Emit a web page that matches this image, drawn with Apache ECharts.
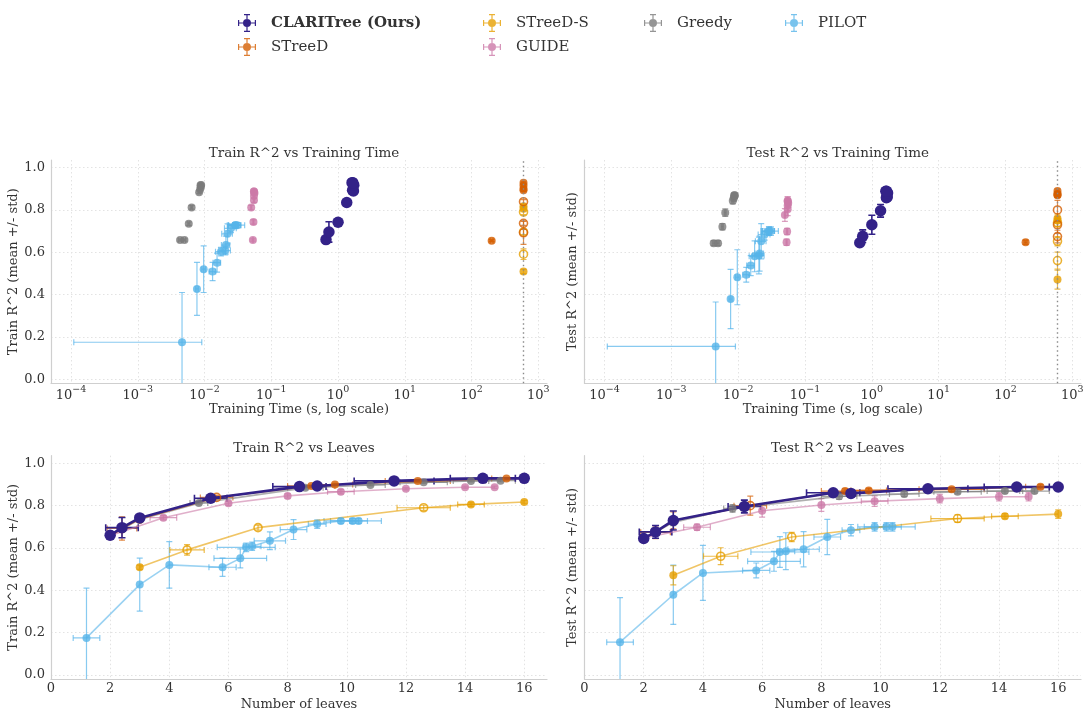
<!DOCTYPE html>
<html>
<head>
<meta charset="utf-8">
<script src="https://cdn.jsdelivr.net/npm/echarts@6/dist/echarts.min.js"></script>
<style>
html, body { margin: 0; padding: 0; background: #fff; }
#chart { width: 1084px; height: 712px; }
</style>
</head>
<body>
<div id="chart"></div>
<script>
// ---- data (mean / std per configuration) ----
// CLARITree (Ours)
const clariLeaves = [2, 2.4, 3, 5.4, 8.4, 9, 11.6, 14.6, 16];
const clariLeavesStd = [0, 0.55, 0, 0.55, 0.9, 0, 1.35, 1.1, 0];
const clariTime = [0.66, 0.73, 1.0, 1.35, 1.7, 1.65, 1.72, 1.62, 1.66];
const clariTimeStd = [0.03, 0.05, 0.05, 0.08, 0.1, 0.1, 0.12, 0.1, 0.1];
const clariTrain = [0.660, 0.696, 0.742, 0.835, 0.890, 0.893, 0.917, 0.929, 0.929];
const clariTrainStd = [0.005, 0.048, 0.008, 0.01, 0.005, 0.005, 0.005, 0.005, 0.004];
const clariTest = [0.645, 0.676, 0.730, 0.796, 0.861, 0.858, 0.880, 0.888, 0.888];
const clariTestStd = [0.012, 0.03, 0.045, 0.03, 0.012, 0.01, 0.01, 0.012, 0.01];

// STreeD
const streedLeaves = [2, 2.4, 3, 5.6, 8.8, 9.6, 12.4, 15.4];
const streedLeavesStd = [0, 0.5, 0, 0.55, 0.8, 0.6, 1.1, 0.5];
const streedTime = [200, 600, 600, 600, 600, 600, 600, 600];
const streedTimeStd = [10, 0, 0, 0, 0, 0, 0, 0];
const streedTrain = [0.655, 0.692, 0.737, 0.839, 0.893, 0.900, 0.916, 0.928];
const streedTrainStd = [0.005, 0.055, 0.01, 0.01, 0.005, 0.005, 0.005, 0.005];
const streedTest = [0.647, 0.674, 0.730, 0.800, 0.869, 0.872, 0.877, 0.889];
const streedTestStd = [0.01, 0.03, 0.04, 0.045, 0.01, 0.01, 0.01, 0.01];
const streedOpen = [false, true, true, true, false, false, false, false];

// STreeD-S
const streedSLeaves = [3, 4.6, 7, 12.6, 14.2, 16];
const streedSLeavesStd = [0, 0.58, 0, 0.9, 0.45, 0];
const streedSTime = [600, 600, 600, 600, 600, 600];
const streedSTimeStd = [0, 0, 0, 0, 0, 0];
const streedSTrain = [0.509, 0.591, 0.696, 0.790, 0.806, 0.817];
const streedSTrainStd = [0.01, 0.025, 0.012, 0.012, 0.01, 0.008];
const streedSTest = [0.471, 0.561, 0.652, 0.739, 0.750, 0.760];
const streedSTestStd = [0.045, 0.04, 0.022, 0.018, 0.012, 0.02];
const streedSOpen = [false, true, true, true, false, false];

// GUIDE
const guideLeaves = [2, 3.8, 6, 8, 9.8, 12, 14, 15];
const guideLeavesStd = [0, 0.45, 0, 0, 0.45, 0, 0, 0];
const guideTime = [0.053, 0.054, 0.050, 0.055, 0.055, 0.056, 0.055, 0.055];
const guideTimeStd = [0.001, 0.001, 0.001, 0.001, 0.001, 0.001, 0.001, 0.001];
const guideTrain = [0.658, 0.743, 0.811, 0.846, 0.866, 0.880, 0.887, 0.887];
const guideTrainStd = [0.005, 0.01, 0.01, 0.01, 0.01, 0.005, 0.005, 0.005];
const guideTest = [0.647, 0.698, 0.776, 0.803, 0.821, 0.833, 0.842, 0.842];
const guideTestStd = [0.015, 0.015, 0.03, 0.03, 0.025, 0.02, 0.02, 0.02];

// Greedy
const greedyLeaves = [2, 2, 3, 5, 8.6, 10.8, 12.6, 14.2, 15.2];
const greedyLeavesStd = [0, 0, 0, 0.3, 0.6, 0.5, 0.8, 0.6, 0.5];
const greedyTime = [0.0043, 0.0050, 0.0058, 0.0064, 0.0083, 0.0086, 0.0088, 0.0087, 0.0089];
const greedyTimeStd = [0.0002, 0.0002, 0.0002, 0.0002, 0.0003, 0.0003, 0.0003, 0.0003, 0.0003];
const greedyTrain = [0.658, 0.658, 0.735, 0.812, 0.884, 0.898, 0.910, 0.917, 0.918];
const greedyTrainStd = [0.005, 0.005, 0.008, 0.008, 0.006, 0.005, 0.005, 0.005, 0.005];
const greedyTest = [0.643, 0.643, 0.721, 0.787, 0.844, 0.855, 0.866, 0.869, 0.869];
const greedyTestStd = [0.012, 0.012, 0.015, 0.018, 0.015, 0.012, 0.01, 0.01, 0.01];

// PILOT
const pilotLeaves = [1.2, 3, 4, 5.8, 6.4, 6.6, 6.8, 7.4, 8.2, 9, 9.8, 10.2, 10.4];
const pilotLeavesStd = [0.45, 0, 0, 0.46, 0.89, 0.98, 0.3, 0.53, 0.45, 0.3, 0.35, 0.97, 0.3];
const pilotTime = [0.0046, 0.0077, 0.0097, 0.0132, 0.0154, 0.0176, 0.0204, 0.0209, 0.0221, 0.0249, 0.0288, 0.0309, 0.029];
const pilotTimeStd = [0.00449, 0.0004, 0.0006, 0.0015, 0.002, 0.003, 0.004, 0.003, 0.004, 0.005, 0.006, 0.009, 0.006];
const pilotTrain = [0.175, 0.427, 0.520, 0.509, 0.551, 0.603, 0.608, 0.634, 0.687, 0.713, 0.728, 0.728, 0.728];
const pilotTrainStd = [0.235, 0.125, 0.11, 0.043, 0.045, 0.02, 0.02, 0.042, 0.047, 0.02, 0.012, 0.012, 0.012];
const pilotTest = [0.155, 0.379, 0.482, 0.494, 0.537, 0.581, 0.585, 0.594, 0.652, 0.684, 0.700, 0.700, 0.700];
const pilotTestStd = [0.21, 0.14, 0.13, 0.035, 0.047, 0.073, 0.087, 0.083, 0.083, 0.027, 0.02, 0.02, 0.02];

const timeLimit = 600; // seconds
const yTicks = [0, 0.2, 0.4, 0.6, 0.8, 1.0];
const leafTicks = [0, 2, 4, 6, 8, 10, 12, 14, 16];
const logTicks = [-4, -3, -2, -1, 0, 1, 2, 3];

const titles = ['Train R^2 vs Training Time', 'Test R^2 vs Training Time', 'Train R^2 vs Leaves', 'Test R^2 vs Leaves'];

// ---- style ----
const FONT = '"DejaVu Serif", "Liberation Serif", serif';
const TXT = '#333333';
const Y_MIN = -0.019, Y_MAX = 1.036;
const LOG_MIN = -4.3, LOG_MAX = 3.13;
const LEAF_MAX = 16.77;

// drawing order: last one on top
const methods = [
  { name: 'PILOT', color: '#56B4E9', leaves: pilotLeaves, leavesStd: pilotLeavesStd, time: pilotTime, timeStd: pilotTimeStd,
    train: pilotTrain, trainStd: pilotTrainStd, test: pilotTest, testStd: pilotTestStd },
  { name: 'Greedy', color: '#7a7a7a', leaves: greedyLeaves, leavesStd: greedyLeavesStd, time: greedyTime, timeStd: greedyTimeStd,
    train: greedyTrain, trainStd: greedyTrainStd, test: greedyTest, testStd: greedyTestStd },
  { name: 'GUIDE', color: '#CC79A7', leaves: guideLeaves, leavesStd: guideLeavesStd, time: guideTime, timeStd: guideTimeStd,
    train: guideTrain, trainStd: guideTrainStd, test: guideTest, testStd: guideTestStd },
  { name: 'STreeD-S', color: '#E69F00', leaves: streedSLeaves, leavesStd: streedSLeavesStd, time: streedSTime, timeStd: streedSTimeStd,
    train: streedSTrain, trainStd: streedSTrainStd, test: streedSTest, testStd: streedSTestStd, open: streedSOpen },
  { name: 'STreeD', color: '#D55E00', leaves: streedLeaves, leavesStd: streedLeavesStd, time: streedTime, timeStd: streedTimeStd,
    train: streedTrain, trainStd: streedTrainStd, test: streedTest, testStd: streedTestStd, open: streedOpen },
  { name: 'CLARITree (Ours)', color: '#332288', ours: true, leaves: clariLeaves, leavesStd: clariLeavesStd, time: clariTime, timeStd: clariTimeStd,
    train: clariTrain, trainStd: clariTrainStd, test: clariTest, testStd: clariTestStd }
];

const panels = [
  { kind: 'time', y: 'train' },
  { kind: 'time', y: 'test' },
  { kind: 'leaves', y: 'train' },
  { kind: 'leaves', y: 'test' }
];

const grids = [
  { left: 51, top: 160, width: 496, height: 223.3 },
  { left: 584.5, top: 160, width: 496.5, height: 223.3 },
  { left: 51, top: 455.7, width: 496, height: 223.3 },
  { left: 584.5, top: 455.7, width: 496.5, height: 223.3 }
];

const axisLineStyle = { show: true, onZero: false, lineStyle: { color: '#cfcfcf', width: 1.2 } };
const splitLineStyle = { show: true, lineStyle: { color: '#e3e3e3', width: 1, type: [1.5, 2.5] } };
const labelText = { fontFamily: FONT, fontSize: 13, color: TXT };

function supLabel(v) {
  const e = v < 0 ? '\u2212' + (-v) : String(v);
  return '{b|10}{s|' + e + '}';
}

const xAxes = panels.map((p, i) => {
  if (p.kind === 'time') {
    return {
      type: 'value', gridIndex: i, min: LOG_MIN, max: LOG_MAX,
      name: 'Training Time (s, log scale)', nameLocation: 'middle', nameGap: 20,
      nameTextStyle: labelText,
      axisLine: axisLineStyle,
      axisTick: { show: false, customValues: logTicks },
      axisLabel: {
        customValues: logTicks, margin: 1, formatter: supLabel,
        rich: {
          b: { fontFamily: FONT, fontSize: 13, color: TXT, lineHeight: 18, verticalAlign: 'bottom' },
          s: { fontFamily: FONT, fontSize: 9.5, color: TXT, lineHeight: 6, verticalAlign: 'top' }
        }
      },
      splitLine: splitLineStyle
    };
  }
  return {
    type: 'value', gridIndex: i, min: 0, max: LEAF_MAX,
    name: 'Number of leaves', nameLocation: 'middle', nameGap: 19,
    nameTextStyle: labelText,
    axisLine: axisLineStyle,
    axisTick: { show: false, customValues: leafTicks },
    axisLabel: Object.assign({ customValues: leafTicks, margin: 3 }, labelText),
    splitLine: splitLineStyle
  };
});

const yAxes = panels.map((p, i) => {
  const right = i % 2 === 1;
  return {
    type: 'value', gridIndex: i, min: Y_MIN, max: Y_MAX,
    name: (p.y === 'train' ? 'Train' : 'Test') + ' R^2 (mean +/- std)',
    nameLocation: 'middle', nameGap: right ? 5 : 28.5,
    nameTextStyle: labelText,
    axisLine: axisLineStyle,
    axisTick: { show: false, customValues: yTicks },
    axisLabel: Object.assign({ show: !right, customValues: yTicks, margin: 6, formatter: v => v.toFixed(1) }, labelText),
    splitLine: splitLineStyle
  };
});

function makeErr(m, pi) {
  const w = m.ours ? 1.6 : 1.2;
  const cap = m.ours ? 3.5 : 3;
  const op = m.ours ? 1 : 0.7;
  const xMin = panels[pi].kind === 'time' ? LOG_MIN : 0;
  const xMax = panels[pi].kind === 'time' ? LOG_MAX : LEAF_MAX;
  return function (params, api) {
    const x = api.value(0), y = api.value(1);
    const xl = api.value(2), xh = api.value(3), yl = api.value(4), yh = api.value(5);
    const st = { stroke: m.color, lineWidth: w, opacity: op, fill: null };
    const kids = [];
    const c = api.coord([x, y]);
    const pl = api.coord([x, Math.max(yl, Y_MIN)]);
    const ph = api.coord([x, Math.min(yh, Y_MAX)]);
    kids.push({ type: 'line', shape: { x1: c[0], y1: pl[1], x2: c[0], y2: ph[1] }, style: st });
    if (yl >= Y_MIN) kids.push({ type: 'line', shape: { x1: c[0] - cap, y1: pl[1], x2: c[0] + cap, y2: pl[1] }, style: st });
    if (yh <= Y_MAX) kids.push({ type: 'line', shape: { x1: c[0] - cap, y1: ph[1], x2: c[0] + cap, y2: ph[1] }, style: st });
    if (xh > xl) {
      const ql = api.coord([Math.max(xl, xMin), y]);
      const qh = api.coord([Math.min(xh, xMax), y]);
      kids.push({ type: 'line', shape: { x1: ql[0], y1: c[1], x2: qh[0], y2: c[1] }, style: st });
      if (xl >= xMin) kids.push({ type: 'line', shape: { x1: ql[0], y1: c[1] - cap, x2: ql[0], y2: c[1] + cap }, style: st });
      if (xh <= xMax) kids.push({ type: 'line', shape: { x1: qh[0], y1: c[1] - cap, x2: qh[0], y2: c[1] + cap }, style: st });
    }
    return { type: 'group', children: kids };
  };
}

const series = [];
panels.forEach((p, pi) => {
  methods.forEach((m, mi) => {
    const isTime = p.kind === 'time';
    const ys = m[p.y], ysd = m[p.y + 'Std'];
    const errData = ys.map((y, i) => {
      let x, xl, xh;
      if (isTime) {
        const t = m.time[i], s = m.timeStd[i];
        x = Math.log10(t); xl = Math.log10(Math.max(t - s, 1e-6)); xh = Math.log10(t + s);
      } else {
        const l = m.leaves[i], s = m.leavesStd[i];
        x = l; xl = l - s; xh = l + s;
      }
      return [x, y, xl, xh, y - ysd[i], y + ysd[i]];
    });
    series.push({
      type: 'custom', name: m.name, xAxisIndex: pi, yAxisIndex: pi,
      data: errData, renderItem: makeErr(m, pi), clip: true, silent: true,
      itemStyle: { color: m.color, opacity: m.ours ? 1 : 0.8 },
      encode: { x: 0, y: 1 }
    });
    const pts = errData.map((d, i) => {
      const item = { value: [d[0], d[1]] };
      if (m.open && m.open[i]) {
        item.itemStyle = { color: 'rgba(255,255,255,0)', borderColor: m.color, borderWidth: 1.6 };
      }
      return item;
    });
    const base = {
      name: m.name, xAxisIndex: pi, yAxisIndex: pi, data: pts,
      symbol: 'circle', symbolSize: m.ours ? 11.5 : 8,
      itemStyle: { color: m.color, opacity: m.ours ? 1 : 0.8 },
      emphasis: { disabled: true }, silent: true
    };
    if (isTime) {
      base.type = 'scatter';
      if (mi === 0) {
        base.markLine = {
          silent: true, symbol: 'none', label: { show: false },
          lineStyle: { color: '#8a8a8a', width: 1.4, type: [1.5, 3] },
          data: [{ xAxis: Math.log10(timeLimit) }]
        };
      }
    } else {
      base.type = 'line';
      base.showAllSymbol = true;
      base.lineStyle = { color: m.color, width: m.ours ? 2.6 : 1.6, opacity: m.ours ? 1 : 0.6 };
    }
    series.push(base);
  });
});

const ICON = 'path://M1 9.4H19V10.6H1Z M9.4 1H10.6V19H9.4Z M1 7H2.2V13H1Z M17.8 7H19V13H17.8Z M7 1H13V2.2H7Z M7 17.8H13V19H7Z M14 10A4 4 0 1 1 6 10A4 4 0 1 1 14 10Z';

function legendCol(left, names) {
  return {
    orient: 'vertical', left: left, top: 9, itemWidth: 18, itemHeight: 18, itemGap: 6,
    icon: ICON, selectedMode: false,
    data: names,
    formatter: n => n === 'CLARITree (Ours)' ? '{g|}{o|' + n + '}' : '{g|}{n|' + n + '}',
    textStyle: {
      fontFamily: FONT, fontSize: 15, color: TXT,
      rich: {
        g: { width: 10 },
        o: { fontFamily: FONT, fontSize: 15, fontWeight: 'bold', color: TXT },
        n: { fontFamily: FONT, fontSize: 15, color: TXT }
      }
    }
  };
}

const centers = grids.map(g => g.left + g.width / 2);

const option = {
  backgroundColor: '#ffffff',
  animation: false,
  title: titles.map((t, i) => ({
    text: t, left: centers[i], top: i < 2 ? 141 : 436, textAlign: 'center',
    textStyle: { fontFamily: FONT, fontSize: 13.5, fontWeight: 'normal', color: TXT }
  })),
  legend: [
    legendCol(233, ['CLARITree (Ours)', 'STreeD']),
    legendCol(478, ['STreeD-S', 'GUIDE']),
    legendCol(639, ['Greedy']),
    legendCol(780, ['PILOT'])
  ],
  grid: grids.map(g => Object.assign({ containLabel: false, outerBoundsMode: 'none' }, g)),
  xAxis: xAxes,
  yAxis: yAxes,
  series: series
};

const chart = echarts.init(document.getElementById('chart'), null, { renderer: 'canvas' });
chart.setOption(option);
</script>
</body>
</html>
